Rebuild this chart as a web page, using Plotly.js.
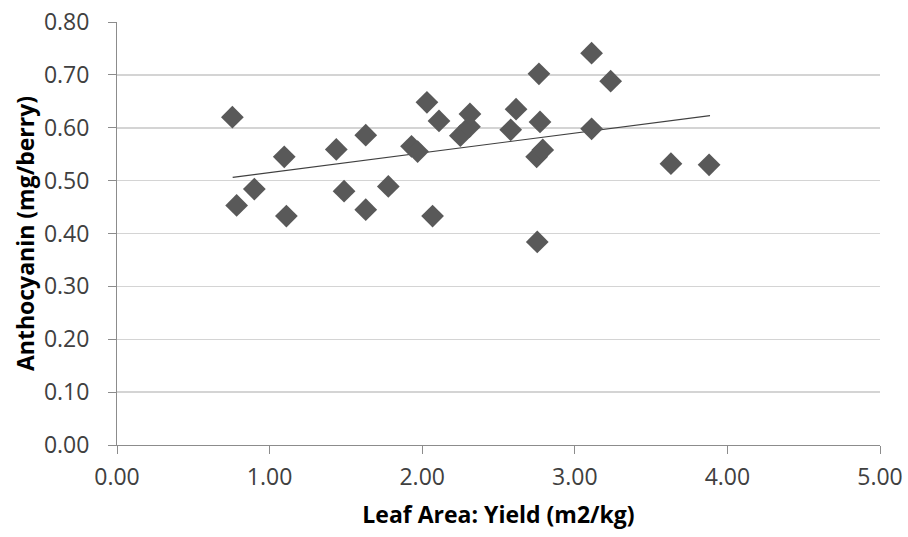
<!DOCTYPE html>
<html>
<head>
<meta charset="utf-8">
<script src="https://cdn.plot.ly/plotly-3.0.1.min.js"></script>
<style>html,body{margin:0;padding:0;background:#fff;}#chart{width:908px;height:537px;}</style>
</head>
<body>
<div id="chart"></div>
<script>
const leafAreaYield = [0.756, 0.784, 0.90, 1.096, 1.110, 1.437, 1.488, 1.630, 1.630, 1.778,
  1.93, 1.97, 2.031, 2.110, 2.068, 2.25, 2.31, 2.313, 2.58, 2.615,
  2.765, 2.772, 2.75, 2.79, 2.754, 3.11, 3.235, 3.11, 3.63, 3.88];
const anthocyanin = [0.620, 0.453, 0.484, 0.545, 0.433, 0.559, 0.480, 0.586, 0.445, 0.489,
  0.565, 0.555, 0.648, 0.613, 0.433, 0.585, 0.602, 0.626, 0.596, 0.635,
  0.702, 0.611, 0.545, 0.558, 0.384, 0.741, 0.688, 0.598, 0.532, 0.530];
const trendX = [0.758, 3.886];
const trendY = [0.506, 0.623];
const xTicks = [0, 1, 2, 3, 4, 5];
const yTicks = [0, 0.1, 0.2, 0.3, 0.4, 0.5, 0.6, 0.7, 0.8];

const traces = [
  {x: trendX, y: trendY, type: 'scatter', mode: 'lines',
   line: {color: '#404040', width: 1.2}, hoverinfo: 'skip', showlegend: false},
  {x: leafAreaYield, y: anthocyanin, type: 'scatter', mode: 'markers',
   marker: {symbol: 'diamond', size: 17.5, color: '#595959'}, showlegend: false}
];

const fam = '"Open Sans", "Liberation Sans", sans-serif';
const tickFont = {family: fam, size: 23, color: '#404040'};
const titleFont = {family: fam, size: 23, color: '#000'};
const layout = {
  width: 908, height: 537,
  margin: {l: 117, r: 28, t: 22, b: 92},
  paper_bgcolor: '#fff', plot_bgcolor: '#fff',
  font: tickFont,
  showlegend: false,
  xaxis: {
    range: [0, 5], tickvals: xTicks, ticktext: xTicks.map(v => v.toFixed(2)),
    tickfont: tickFont,
    showgrid: false, zeroline: false, showline: true, linecolor: '#8c8c8c', linewidth: 1,
    ticks: 'outside', ticklen: 8, tickcolor: '#8c8c8c', ticklabelstandoff: 3,
    title: {text: '<b>Leaf Area: Yield (m2/kg)</b>', font: titleFont, standoff: 16}
  },
  yaxis: {
    range: [0, 0.8], tickvals: yTicks, ticktext: yTicks.map(v => v.toFixed(2)),
    tickfont: tickFont,
    showgrid: true, gridcolor: '#d4d4d4', gridwidth: 1.5, zeroline: false,
    showline: true, linecolor: '#8c8c8c', linewidth: 1,
    ticks: 'outside', ticklen: 8, tickcolor: '#8c8c8c', ticklabelstandoff: 14,
    title: {text: '<b>Anthocyanin (mg/berry)</b>', font: titleFont, standoff: 2}
  }
};
Plotly.newPlot('chart', traces, layout, {displayModeBar: false, staticPlot: true});
</script>
</body>
</html>
